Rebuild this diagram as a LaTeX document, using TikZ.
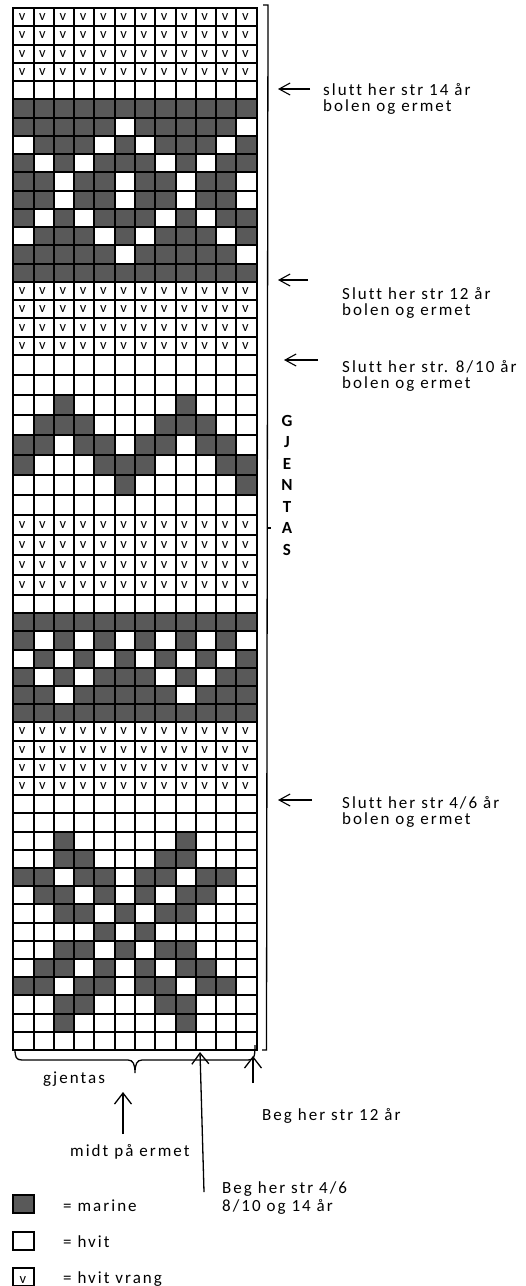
\documentclass[tikz,border=0pt]{standalone}
\usepackage{fontspec}
\setmainfont{Carlito}
\newfontfamily\lab[LetterSpace=12,Ligatures=NoCommon]{Carlito}
\usetikzlibrary{arrows.meta}
\definecolor{marine}{HTML}{595959}
\pgfmathdeclarefunction{rowtop}{1}{\pgfmathparse{ifthenelse(#1<=20, 8+(#1-1)*18.263, ifthenelse(#1<=32, 355+(#1-20)*20, 595+(#1-32)*18.2))}}
\tikzset{
  gridline/.style={line width=2pt, black, line cap=rect},
  vmark/.style={font=\fontsize{14.5}{14.5}\selectfont, inner sep=0, anchor=base},
  lbl/.style={font=\lab\fontsize{17}{17}\selectfont, inner sep=0, anchor=base west},
  gj/.style={font=\fontsize{17}{17}\selectfont\bfseries, inner sep=0, anchor=base},
  arr/.style={line width=1.1pt, -{Straight Barb[length=11pt,width=12pt]}},
  arrb/.style={line width=1.3pt, -{Straight Barb[length=11pt,width=17pt]}},
  legbox/.style={draw=black, line width=2pt, minimum width=21pt, minimum height=18pt, inner sep=0, rectangle},
}
\begin{document}
\begin{tikzpicture}[x=1pt,y=-1pt]
\useasboundingbox (0,0) rectangle (526,1286);
\fill[white] (0,0) rectangle (526,1286);
% cells: 0 white, 1 marine, 2 v
\foreach \row [count=\r] in {
{2,2,2,2,2,2,2,2,2,2,2,2},
{2,2,2,2,2,2,2,2,2,2,2,2},
{2,2,2,2,2,2,2,2,2,2,2,2},
{2,2,2,2,2,2,2,2,2,2,2,2},
{0,0,0,0,0,0,0,0,0,0,0,0},
{1,1,1,1,1,1,1,1,1,1,1,1},
{1,1,1,1,1,0,1,1,1,1,1,0},
{0,1,1,1,0,1,0,1,1,1,0,1},
{1,0,1,0,1,1,1,0,1,0,1,1},
{1,1,0,1,1,0,1,1,0,1,1,0},
{1,1,0,1,1,0,1,1,0,1,1,0},
{1,0,1,0,1,1,1,0,1,0,1,1},
{0,1,1,1,0,1,0,1,1,1,0,1},
{1,1,1,1,1,0,1,1,1,1,1,0},
{1,1,1,1,1,1,1,1,1,1,1,1},
{2,2,2,2,2,2,2,2,2,2,2,2},
{2,2,2,2,2,2,2,2,2,2,2,2},
{2,2,2,2,2,2,2,2,2,2,2,2},
{2,2,2,2,2,2,2,2,2,2,2,2},
{0,0,0,0,0,0,0,0,0,0,0,0},
{0,0,0,0,0,0,0,0,0,0,0,0},
{0,0,1,0,0,0,0,0,1,0,0,0},
{0,1,1,1,0,0,0,1,1,1,0,0},
{1,1,0,1,1,0,1,1,0,1,1,0},
{1,0,0,0,1,1,1,0,0,0,1,1},
{0,0,0,0,0,1,0,0,0,0,0,1},
{0,0,0,0,0,0,0,0,0,0,0,0},
{2,2,2,2,2,2,2,2,2,2,2,2},
{2,2,2,2,2,2,2,2,2,2,2,2},
{2,2,2,2,2,2,2,2,2,2,2,2},
{2,2,2,2,2,2,2,2,2,2,2,2},
{0,0,0,0,0,0,0,0,0,0,0,0},
{1,1,1,1,1,1,1,1,1,1,1,1},
{1,0,1,0,1,0,1,0,1,0,1,0},
{0,1,0,1,0,1,0,1,0,1,0,1},
{1,0,1,0,1,1,1,0,1,0,1,1},
{1,1,0,1,1,1,1,1,0,1,1,1},
{1,1,1,1,1,1,1,1,1,1,1,1},
{2,2,2,2,2,2,2,2,2,2,2,2},
{2,2,2,2,2,2,2,2,2,2,2,2},
{2,2,2,2,2,2,2,2,2,2,2,2},
{2,2,2,2,2,2,2,2,2,2,2,2},
{0,0,0,0,0,0,0,0,0,0,0,0},
{0,0,0,0,0,0,0,0,0,0,0,0},
{0,0,1,0,0,0,0,0,1,0,0,0},
{0,0,1,1,0,0,0,1,1,0,0,0},
{1,1,0,1,1,0,1,1,0,1,1,0},
{0,1,1,0,1,0,1,0,1,1,0,0},
{0,0,1,1,0,1,0,1,1,0,0,0},
{0,0,0,0,1,0,1,0,0,0,0,0},
{0,0,1,1,0,1,0,1,1,0,0,0},
{0,1,1,0,1,0,1,0,1,1,0,0},
{1,1,0,1,1,0,1,1,0,1,1,0},
{0,0,1,1,0,0,0,1,1,0,0,0},
{0,0,1,0,0,0,0,0,1,0,0,0},
{0,0,0,0,0,0,0,0,0,0,0,0}}{
  \pgfmathsetmacro{\yt}{rowtop(\r)}
  \pgfmathsetmacro{\yb}{rowtop(\r+1)}
  \foreach \c [count=\k] in \row {
    \pgfmathsetmacro{\xl}{13.3+(\k-1)*20.28}
    \pgfmathsetmacro{\xr}{\xl+20.28}
    \ifnum\c=1 \fill[marine] (\xl,\yt) rectangle (\xr,\yb);\fi
    \ifnum\c=2 \node[vmark] (v-\r-\k) at ({(\xl+\xr)/2-1.2},{(\yt+\yb)/2+3.4}) {v};\fi
  }
}
% grid lines
\foreach \r in {1,...,57}{
  \pgfmathsetmacro{\yy}{rowtop(\r)}
  \draw[gridline] (13.3,\yy) -- (256.66,\yy);
}
\foreach \k in {0,...,12}{
  \draw[gridline] ({13.3+\k*20.28},8) -- ({13.3+\k*20.28},1050);
}
% right bracket
\draw[line width=1.3pt] (263,5) -- (268,5) -- (266.5,1050) -- (262,1050);
\draw[line width=1.3pt] (267.3,528) -- (271,528);
% GJENTAS
\node[gj] (g1) at (287,426) {G};
\node[gj] (g2) at (287,447.5) {J};
\node[gj] (g3) at (287,469) {E};
\node[gj] (g4) at (287,490.5) {N};
\node[gj] (g5) at (287,512) {T};
\node[gj] (g6) at (287,533.5) {A};
\node[gj] (g7) at (287,555) {S};
% right labels and arrows
\coordinate (a14h) at (278,89);  \coordinate (a14t) at (310,89);
\draw[arr] (a14t) -- (a14h);
\node[lbl] (l14a) at (323,95) {slutt her str 14 år};
\node[lbl] (l14b) at (323,111) {bolen og ermet};
\coordinate (a12h) at (278,280); \coordinate (a12t) at (308,280);
\draw[arr] (a12t) -- (a12h);
\node[lbl] (l12a) at (342,299) {Slutt her str 12 år};
\node[lbl] (l12b) at (342,315) {bolen og ermet};
\coordinate (a8h) at (284,360); \coordinate (a8t) at (318,360);
\draw[arr] (a8t) -- (a8h);
\node[lbl] (l8a) at (342,372.5) {Slutt her str. 8/10 år};
\node[lbl] (l8b) at (342,388.5) {bolen og ermet};
\coordinate (a4h) at (278,800); \coordinate (a4t) at (312,800);
\draw[arr] (a4t) -- (a4h);
\node[lbl] (l4a) at (342,808) {Slutt her str 4/6 år};
\node[lbl] (l4b) at (342,824) {bolen og ermet};
% brace under grid
\draw[line width=1.3pt] (15,1049) .. controls (15,1057) and (16,1060) .. (22,1060) -- (128,1060)
  .. controls (133,1060) and (135,1064) .. (135,1073)
  .. controls (135,1064) and (137,1060) .. (142,1060) -- (248,1060)
  .. controls (254,1060) and (255,1057) .. (255,1045);
\node[lbl] (lgj) at (43,1083) {gjentas};
% bottom arrows
\coordinate (bm1) at (123,1134); \coordinate (bm2) at (123,1092);
\draw[arrb] (bm1) -- (bm2);
\node[lbl] (lmidt) at (70,1156.5) {midt på ermet};
\coordinate (b12a) at (253,1083); \coordinate (b12b) at (253,1056);
\draw[arrb] (b12a) -- (b12b);
\node[lbl] (lb12) at (262,1120) {Beg her str 12 år};
\coordinate (b4a) at (204,1192); \coordinate (b4b) at (200,1052);
\draw[arrb] (b4a) -- (b4b);
\node[lbl] (lb4a) at (222,1193) {Beg her str 4/6};
\node[lbl] (lb4b) at (222,1211) {8/10 og 14 år};
% legend
\node[legbox, fill=marine] (legm) at (23.5,1204) {};
\node[lbl] (legmt) at (63,1211) {= marine};
\node[legbox, fill=white] (legw) at (23.5,1241) {};
\node[lbl] (legwt) at (63,1247) {= hvit};
\node[legbox, fill=white] (legv) at (23.5,1276.5) {};
\node[vmark] (legvv) at (23,1283) {v};
\node[lbl] (legvt) at (63,1283) {= hvit vrang};
\end{tikzpicture}
\end{document}
